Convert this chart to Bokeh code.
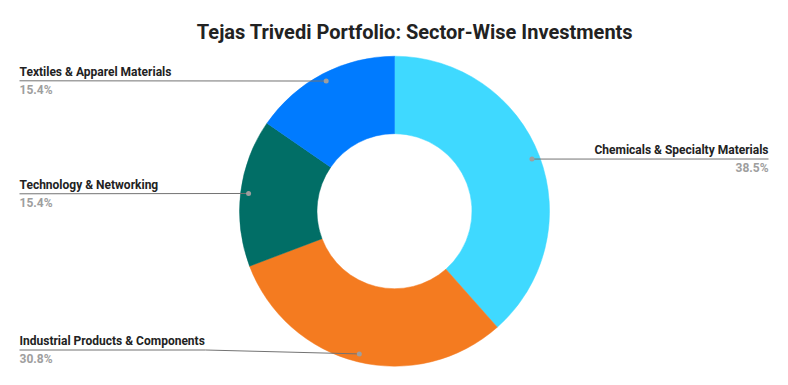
import math
from bokeh.plotting import figure
from bokeh.models import Range1d, ColumnDataSource
from bokeh.core.properties import value
from bokeh.embed import file_html
from bokeh.resources import INLINE

title = "Tejas Trivedi Portfolio: Sector-Wise Investments"
sectors = ["Chemicals & Specialty Materials", "Industrial Products & Components",
           "Technology & Networking", "Textiles & Apparel Materials"]
shares = [38.5, 30.8, 15.4, 15.4]
colors = ["#3fd9ff", "#f47b20", "#016e66", "#007bff"]

# layout of the outside labels (image pixel coords): anchor x, align, label baseline, line y, pct baseline, elbow x
label_layout = [
    (768, "right", 149.5, 158.5, 167.5, None),
    (19, "left", 340.5, 349.5, 358.5, 205),
    (19, "left", 184.5, 193.3, 202.5, None),
    (19, "left", 71.5, 80.3, 89.5, None),
]

W, H = 772, 369
IMG_H = 385


def Y(img_y):
    return IMG_H - img_y


p = figure(width=W, height=H, x_range=Range1d(0, 772), y_range=Range1d(16, 385),
           output_backend="svg", toolbar_location=None, min_border=0)
p.axis.visible = False
p.grid.visible = False
p.outline_line_color = None
p.background_fill_color = "white"
p.border_fill_color = "white"

cx, cy = 394, Y(210.7)
r_out, r_in, r_dot = 155, 77.5, 147

total = sum(shares)
starts, ends, mids = [], [], []
acc = 0.0
for s in shares:
    a0 = math.pi / 2 - 2 * math.pi * acc / total
    acc += s
    a1 = math.pi / 2 - 2 * math.pi * acc / total
    starts.append(a0)
    ends.append(a1)
    mids.append((a0 + a1) / 2)

src = ColumnDataSource(dict(start=starts, end=ends, color=colors, sector=sectors))
p.annular_wedge(x=cx, y=cy, inner_radius=r_in, outer_radius=r_out,
                start_angle="start", end_angle="end", direction="clock",
                fill_color="color", line_color="color", line_width=0.5, source=src)

dot_x = [cx + r_dot * math.cos(m) for m in mids]
dot_y = [cy + r_dot * math.sin(m) for m in mids]

for i, (ax, align, lab_y, line_y, pct_y, elbow) in enumerate(label_layout):
    if elbow is None:
        xs = [ax, dot_x[i]]
        ys = [Y(line_y), dot_y[i]]
    else:
        xs = [ax, elbow, dot_x[i]]
        ys = [Y(line_y), Y(line_y), dot_y[i]]
    p.line(xs, ys, line_color="#737373", line_width=1)
    p.text(x=[ax], y=[Y(lab_y)], text=[sectors[i]], text_align=align,
           text_baseline="middle", text_font=value("Roboto"),
           text_font_style="bold", text_font_size="12px", text_color="#222222")
    p.text(x=[ax], y=[Y(pct_y)], text=[f"{shares[i]:.1f}%"], text_align=align,
           text_baseline="middle", text_font=value("Roboto"),
           text_font_style="bold", text_font_size="12px", text_color="#9e9e9e")

p.scatter(dot_x, dot_y, size=5, fill_color="#9e9e9e", line_color=None)

p.text(x=[414.5], y=[Y(31.5)], text=[title], text_align="center",
       text_baseline="middle", text_font=value("Roboto"),
       text_font_style="bold", text_font_size="20px", text_color="#222222")

open("out.html", "w").write(file_html(p, INLINE))
